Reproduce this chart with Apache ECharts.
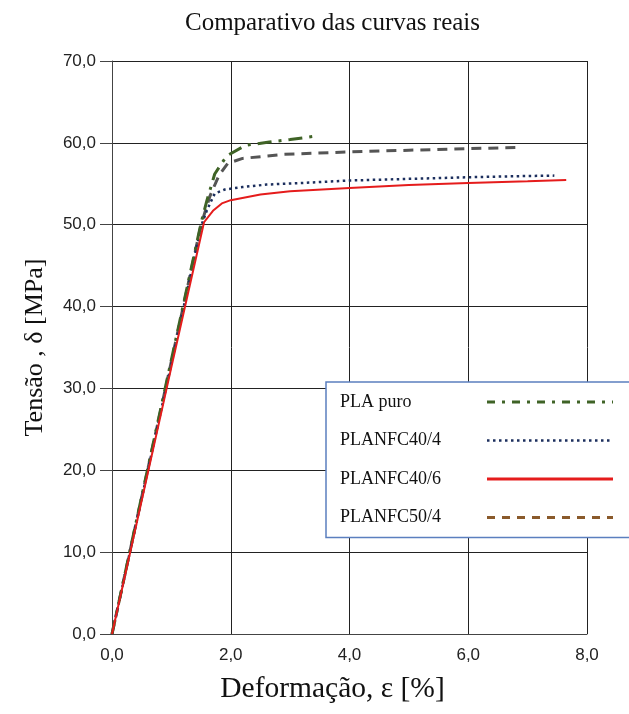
<!DOCTYPE html>
<html>
<head>
<meta charset="utf-8">
<script src="https://cdn.jsdelivr.net/npm/echarts@6/dist/echarts.min.js"></script>
<style>html,body{margin:0;padding:0;background:#fff;}#c{width:629px;height:714px;}</style>
</head>
<body>
<div id="c"></div>
<script>
var titleText = 'Comparativo das curvas reais';
var xName = 'Deformação, ε [%]';
var yName = 'Tensão , δ [MPa]';
var seriesNames = ['PLA puro', 'PLANFC40/4', 'PLANFC40/6', 'PLANFC50/4'];

var plaPuro = [[0,0],[0.5,16.8],[1.0,33.5],[1.5,50.2],[1.6,53.0],[1.73,56.2],[1.93,58.4],[2.25,59.7],[2.65,60.1],[3.0,60.4],[3.4,60.8]];
var planfc40_4 = [[0,0],[0.5,16.6],[1.0,33.0],[1.5,49.8],[1.6,51.8],[1.73,53.8],[1.9,54.3],[2.2,54.6],[2.6,54.9],[3.2,55.1],[4.0,55.4],[5.0,55.6],[6.0,55.8],[7.0,55.95],[7.45,56.0]];
var planfc40_6 = [[0,0],[0.5,16.3],[1.0,32.6],[1.55,50.3],[1.7,51.7],[1.85,52.6],[2.0,53.0],[2.5,53.7],[3.0,54.1],[4.0,54.5],[5.0,54.85],[6.0,55.1],[7.0,55.3],[7.65,55.45]];
var planfc50_4 = [[0,0],[0.5,16.7],[1.0,33.3],[1.5,50.0],[1.65,53.5],[1.8,56.0],[1.95,57.5],[2.2,58.1],[2.9,58.6],[4.0,58.9],[5.0,59.1],[6.0,59.3],[6.9,59.45]];

var fmt = function (v) { return v.toFixed(1).replace('.', ','); };
var serif = '"Liberation Serif", "Times New Roman", serif';
var sans = '"Liberation Sans", Arial, sans-serif';

var chart = echarts.init(document.getElementById('c'));
chart.setOption({
  backgroundColor: '#fff',
  animation: false,
  title: {
    text: titleText, left: 180, top: 6,
    textStyle: { fontFamily: serif, fontSize: 25, fontWeight: 'normal', color: '#111' }
  },
  grid: { left: 112, right: 42, top: 61, bottom: 80 },
  xAxis: {
    type: 'value', min: 0, max: 8, interval: 2,
    name: xName, nameLocation: 'middle', nameGap: 40,
    nameTextStyle: { fontFamily: serif, fontSize: 29.5, color: '#111', padding: [0, 34, 0, 0] },
    axisLine: { show: true, lineStyle: { color: '#444', width: 1 } },
    axisTick: { show: false },
    axisLabel: { formatter: fmt, fontFamily: sans, fontSize: 17, color: '#222', margin: 13 },
    splitLine: { show: true, lineStyle: { color: '#222', width: 1 } }
  },
  yAxis: {
    type: 'value', min: 0, max: 70, interval: 10,
    name: yName, nameLocation: 'middle', nameGap: 64, nameRotate: 90,
    nameTextStyle: { fontFamily: serif, fontSize: 26, color: '#111' },
    axisLine: { show: true, lineStyle: { color: '#444', width: 1 } },
    axisTick: { show: true, length: 12, lineStyle: { color: '#444' } },
    axisLabel: { formatter: fmt, fontFamily: sans, fontSize: 17, color: '#222', margin: 16 },
    splitLine: { show: true, lineStyle: { color: '#222', width: 1 } }
  },
  legend: {
    orient: 'vertical', left: 326, top: 382,
    align: 'right',
    backgroundColor: '#fff', borderColor: '#5b7fbf', borderWidth: 1.5,
    padding: [11, 30, 11, 14],
    itemWidth: 126, itemHeight: 18, itemGap: 20.5,
    itemStyle: { opacity: 0 },
    formatter: '{a|{name}}',
    textStyle: { fontFamily: serif, fontSize: 18, color: '#111',
      rich: { a: { fontFamily: serif, fontSize: 18, color: '#111', width: 142, align: 'left' } } },
    data: [
      { name: seriesNames[0], lineStyle: { width: 3, type: [8, 7, 3, 7] } },
      { name: seriesNames[1], lineStyle: { width: 2.5 } },
      { name: seriesNames[2], lineStyle: { width: 3 } },
      { name: seriesNames[3], lineStyle: { color: '#8a5a2b', width: 3, type: [8, 7] } }
    ]
  },
  series: [
    { name: seriesNames[0], type: 'line', data: plaPuro, symbol: 'none', z: 4,
      lineStyle: { color: '#3f6326', width: 3, type: [14, 7, 3, 7] }, itemStyle: { color: '#3f6326' } },
    { name: seriesNames[1], type: 'line', data: planfc40_4, symbol: 'none', z: 3,
      lineStyle: { color: '#1c2f5e', width: 2.5, type: [2.5, 3.5] }, itemStyle: { color: '#1c2f5e' } },
    { name: seriesNames[2], type: 'line', data: planfc40_6, symbol: 'none', z: 5,
      lineStyle: { color: '#e51c1c', width: 2 }, itemStyle: { color: '#e51c1c' } },
    { name: seriesNames[3], type: 'line', data: planfc50_4, symbol: 'none', z: 2,
      lineStyle: { color: '#555555', width: 3, type: [10, 7] }, itemStyle: { color: '#555555' } }
  ]
});
</script>
</body>
</html>
